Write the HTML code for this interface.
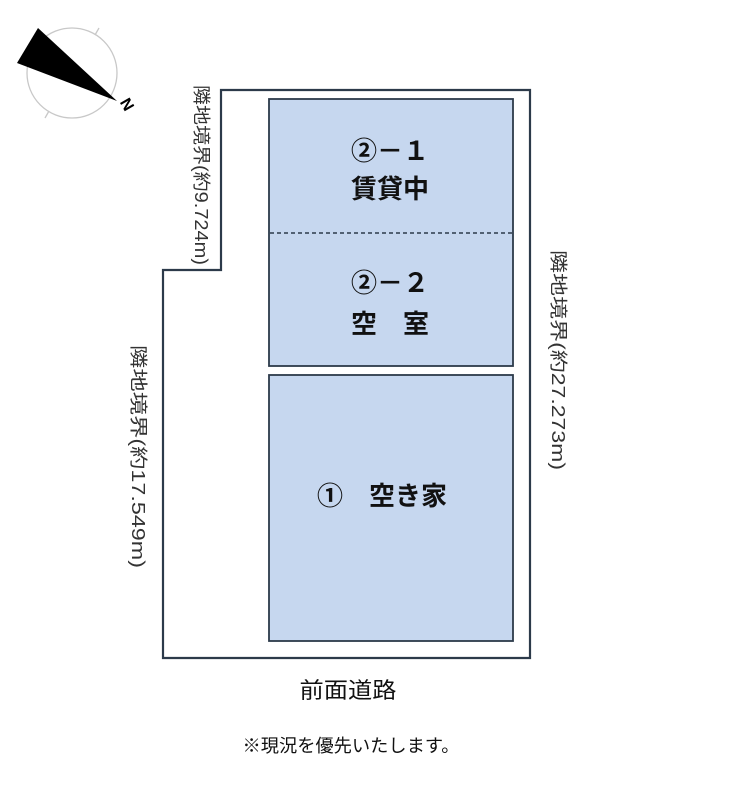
<!DOCTYPE html>
<html><head><meta charset="utf-8"><style>
html,body{margin:0;padding:0;background:#fff;}
svg{display:block;}
text{font-family:"Liberation Sans","Noto Sans CJK JP",sans-serif;}
</style></head><body>
<svg width="730" height="800" viewBox="0 0 730 800" xmlns="http://www.w3.org/2000/svg">
<rect width="730" height="800" fill="#fff"/>
<circle cx="72" cy="73" r="45" fill="none" stroke="#c8c8c8" stroke-width="1.3"/>
<line x1="95" y1="35" x2="99" y2="28" stroke="#c8c8c8" stroke-width="1.3"/>
<line x1="49" y1="111" x2="45" y2="118" stroke="#c8c8c8" stroke-width="1.3"/>
<line x1="33" y1="50" x2="27" y2="47" stroke="#c8c8c8" stroke-width="1.3"/>
<polygon points="38,28 17,63 117,101" fill="#000"/>
<text x="126" y="105" font-size="16" font-weight="bold" font-family="Liberation Serif,serif" transform="rotate(60 126 105)" text-anchor="middle" dominant-baseline="middle">N</text>
<polygon points="221,90 530,90 530,658 163,658 163,270 221,270" fill="none" stroke="#2c3a4a" stroke-width="2.2"/>
<rect x="269" y="99" width="244" height="267" fill="#c6d7ef" stroke="#2c3a4a" stroke-width="1.8"/>
<line x1="270" y1="233" x2="512" y2="233" stroke="#2c3a4a" stroke-width="1.5" stroke-dasharray="4,3"/>
<rect x="269" y="375" width="244" height="266" fill="#c6d7ef" stroke="#2c3a4a" stroke-width="1.8"/>
<g font-weight="bold" font-size="26" fill="#111" text-anchor="middle">
<text x="390" y="160">②－１</text>
<text x="390" y="198">賃貸中</text>
<text x="390" y="292">②－２</text>
<text x="390" y="333">空　室</text>
<text x="382" y="505">①　空き家</text>
</g>
<g font-size="18" fill="#333">
<text transform="translate(195,85) rotate(90)" x="0" y="0" textLength="180" lengthAdjust="spacingAndGlyphs">隣地境界(約9.724m)</text>
<text transform="translate(552,250) rotate(90)" x="0" y="0" textLength="220" lengthAdjust="spacingAndGlyphs">隣地境界(約27.273m)</text>
<text transform="translate(132,345) rotate(90)" x="0" y="0" textLength="223" lengthAdjust="spacingAndGlyphs">隣地境界(約17.549m)</text>
</g>
<text x="348" y="698" font-size="22" fill="#111" text-anchor="middle" textLength="97" lengthAdjust="spacingAndGlyphs">前面道路</text>
<text x="351" y="752" font-size="18" fill="#111" text-anchor="middle" textLength="217" lengthAdjust="spacingAndGlyphs">※現況を優先いたします。</text>
</svg>
</body></html>
